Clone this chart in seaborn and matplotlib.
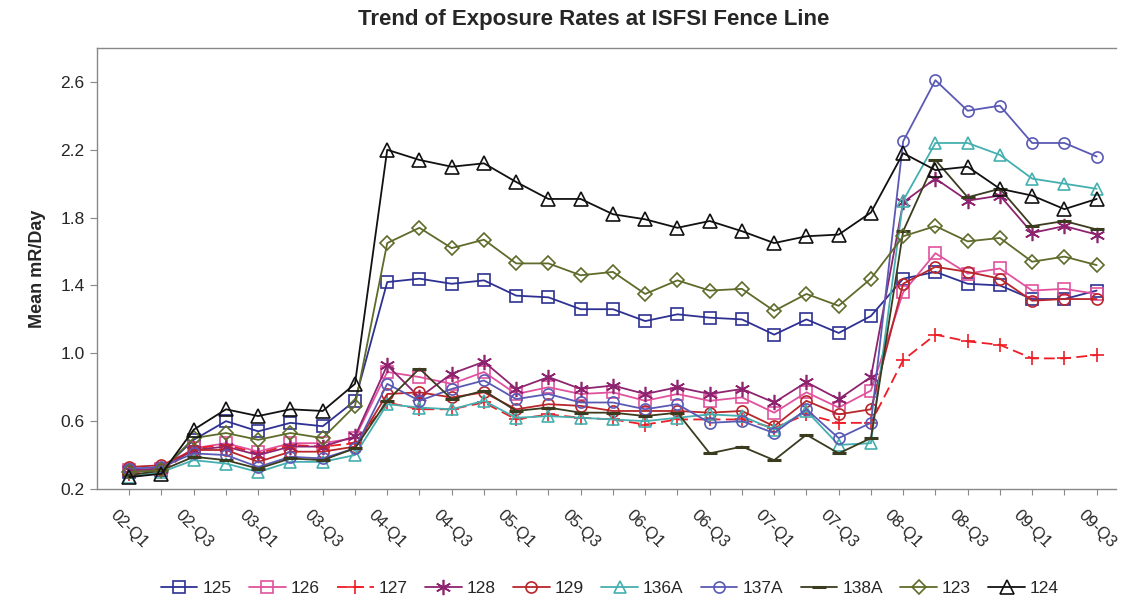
import numpy as np
import pandas as pd
import matplotlib
matplotlib.use("Agg")
import matplotlib.pyplot as plt
import seaborn as sns

quarters = ["02-Q1", "02-Q2", "02-Q3", "02-Q4", "03-Q1", "03-Q2", "03-Q3", "03-Q4",
            "04-Q1", "04-Q2", "04-Q3", "04-Q4", "05-Q1", "05-Q2", "05-Q3", "05-Q4",
            "06-Q1", "06-Q2", "06-Q3", "06-Q4", "07-Q1", "07-Q2", "07-Q3", "07-Q4",
            "08-Q1", "08-Q2", "08-Q3", "08-Q4", "09-Q1", "09-Q2", "09-Q3"]

s125 = [0.30, 0.31, 0.49, 0.60, 0.54, 0.59, 0.57, 0.72,
        1.42, 1.44, 1.41, 1.43, 1.34, 1.33, 1.26, 1.26, 1.19, 1.23, 1.21, 1.20, 1.11, 1.20, 1.12, 1.22,
        1.44, 1.48, 1.41, 1.40, 1.32, 1.32, 1.37]
s126 = [0.31, 0.32, 0.44, 0.47, 0.42, 0.47, 0.47, 0.50,
        0.89, 0.86, 0.82, 0.89, 0.76, 0.80, 0.76, 0.77, 0.72, 0.76, 0.72, 0.74, 0.65, 0.77, 0.68, 0.78,
        1.36, 1.59, 1.47, 1.50, 1.37, 1.38, 1.35]
s127 = [0.29, 0.30, 0.44, 0.46, 0.41, 0.46, 0.45, 0.47,
        0.71, 0.67, 0.67, 0.71, 0.61, 0.64, 0.62, 0.61, 0.58, 0.61, 0.61, 0.61, 0.56, 0.64, 0.59, 0.59,
        0.96, 1.11, 1.07, 1.05, 0.97, 0.97, 0.99]
s128 = [0.31, 0.32, 0.43, 0.45, 0.40, 0.45, 0.45, 0.51,
        0.93, 0.74, 0.88, 0.95, 0.79, 0.86, 0.79, 0.81, 0.76, 0.80, 0.76, 0.79, 0.71, 0.83, 0.73, 0.86,
        1.89, 2.03, 1.90, 1.93, 1.71, 1.75, 1.70]
s129 = [0.33, 0.34, 0.43, 0.43, 0.36, 0.42, 0.42, 0.45,
        0.76, 0.77, 0.74, 0.77, 0.67, 0.70, 0.69, 0.66, 0.66, 0.66, 0.65, 0.66, 0.57, 0.72, 0.64, 0.67,
        1.41, 1.51, 1.48, 1.44, 1.31, 1.32, 1.32]
s136a = [0.27, 0.30, 0.37, 0.35, 0.30, 0.36, 0.36, 0.40,
         0.70, 0.68, 0.67, 0.72, 0.62, 0.63, 0.62, 0.61, 0.60, 0.62, 0.64, 0.63, 0.55, 0.66, 0.46, 0.47,
         1.90, 2.24, 2.24, 2.17, 2.03, 2.00, 1.97]
s137a = [0.32, 0.33, 0.41, 0.40, 0.33, 0.39, 0.38, 0.44,
         0.82, 0.72, 0.79, 0.84, 0.73, 0.76, 0.71, 0.71, 0.67, 0.70, 0.59, 0.60, 0.53, 0.67, 0.50, 0.59,
         2.25, 2.61, 2.43, 2.46, 2.24, 2.24, 2.16]
s138a = [0.28, 0.31, 0.39, 0.37, 0.32, 0.38, 0.37, 0.44,
         0.72, 0.91, 0.73, 0.78, 0.66, 0.68, 0.65, 0.65, 0.63, 0.65, 0.41, 0.45, 0.37, 0.52, 0.41, 0.50,
         1.72, 2.14, 1.92, 1.97, 1.75, 1.78, 1.73]
s123 = [0.30, 0.31, 0.50, 0.53, 0.49, 0.53, 0.50, 0.69,
        1.65, 1.74, 1.62, 1.67, 1.53, 1.53, 1.46, 1.48, 1.35, 1.43, 1.37, 1.38, 1.25, 1.35, 1.28, 1.44,
        1.69, 1.75, 1.66, 1.68, 1.54, 1.57, 1.52]
s124 = [0.27, 0.29, 0.55, 0.67, 0.63, 0.67, 0.66, 0.82,
        2.20, 2.14, 2.10, 2.12, 2.01, 1.91, 1.91, 1.82, 1.79, 1.74, 1.78, 1.72, 1.65, 1.69, 1.70, 1.83,
        2.18, 2.08, 2.10, 1.97, 1.93, 1.85, 1.91]

stations = ["125", "126", "127", "128", "129", "136A", "137A", "138A", "123", "124"]
series = [s125, s126, s127, s128, s129, s136a, s137a, s138a, s123, s124]

# look of each station: colour, marker, size, line style
styles = {
    "125":  ("#2E3192", "s", 8, "-"),
    "126":  ("#E0529C", "s", 8, "-"),
    "127":  ("#EE1C25", "+", 10, (0, (6, 3))),
    "128":  ("#8E2470", (6, 2, 0), 11, "-"),
    "129":  ("#B8262B", "o", 8, "-"),
    "136A": ("#45AFAF", "^", 9, "-"),
    "137A": ("#5A5AB5", "o", 8, "-"),
    "138A": ("#3B3B1F", "_", 10, "-"),
    "123":  ("#5F6B2A", "D", 7, "-"),
    "124":  ("#111111", "^", 10, "-"),
}

pos = np.arange(len(quarters))
df = pd.concat([pd.DataFrame({"pos": pos, "quarter": quarters, "station": st, "rate": vals})
                for st, vals in zip(stations, series)], ignore_index=True)

sns.set_theme(style="white")
plt.rcParams["font.family"] = ["Liberation Sans", "DejaVu Sans"]

fig = plt.figure(figsize=(11.22, 6.01), dpi=100)
ax = fig.add_axes([97 / 1122, 1 - 489 / 601, (1116 - 97) / 1122, (489 - 48) / 601])

for st in stations:
    color, mk, ms, ls = styles[st]
    sub = df[df["station"] == st]
    mew = 2.2 if mk == "_" else 1.2
    sns.lineplot(data=sub, x="pos", y="rate", ax=ax, color=color, marker=mk,
                 markersize=ms, linestyle=ls, linewidth=1.3, label=st,
                 markerfacecolor="none" if mk not in ("+", "_", (6, 2, 0)) else color,
                 markeredgecolor=color, markeredgewidth=mew)

ax.set_xlim(-1, 30.6)
ax.set_ylim(0.2, 2.8)
ax.set_yticks([0.2, 0.6, 1.0, 1.4, 1.8, 2.2, 2.6])
ax.set_yticklabels(["0.2", "0.6", "1.0", "1.4", "1.8", "2.2", "2.6"], fontsize=12.5)
ax.set_xticks(pos)
ax.set_xticklabels([q if i % 2 == 0 else "" for i, q in enumerate(quarters)],
                   rotation=-45, ha="center", va="top", fontsize=12)
ax.tick_params(axis="x", which="major", direction="out", length=4, width=0.8,
               color="#888888", pad=9, bottom=True)
ax.tick_params(axis="y", which="major", direction="out", length=5, width=0.8,
               color="#888888", pad=4, left=True)
ax.set_xlabel("")
ax.set_ylabel("Mean mR/Day", fontsize=13, fontweight="bold", labelpad=10)

for side in ["left", "bottom", "top"]:
    ax.spines[side].set_color("#888888")
    ax.spines[side].set_linewidth(1.0)
ax.spines["right"].set_visible(False)

fig.text(594 / 1122, 1 - 20 / 601, "Trend of Exposure Rates at ISFSI Fence Line",
         ha="center", va="center", fontsize=16, fontweight="bold")

ax.legend(loc="center", bbox_to_anchor=(610 / 1122, 13 / 601), bbox_transform=fig.transFigure,
          ncol=10, frameon=False, fontsize=12.5, handlelength=2.1, handletextpad=0.3,
          columnspacing=1.0, borderaxespad=0)

fig.savefig("out.png", dpi=100, facecolor="white")
